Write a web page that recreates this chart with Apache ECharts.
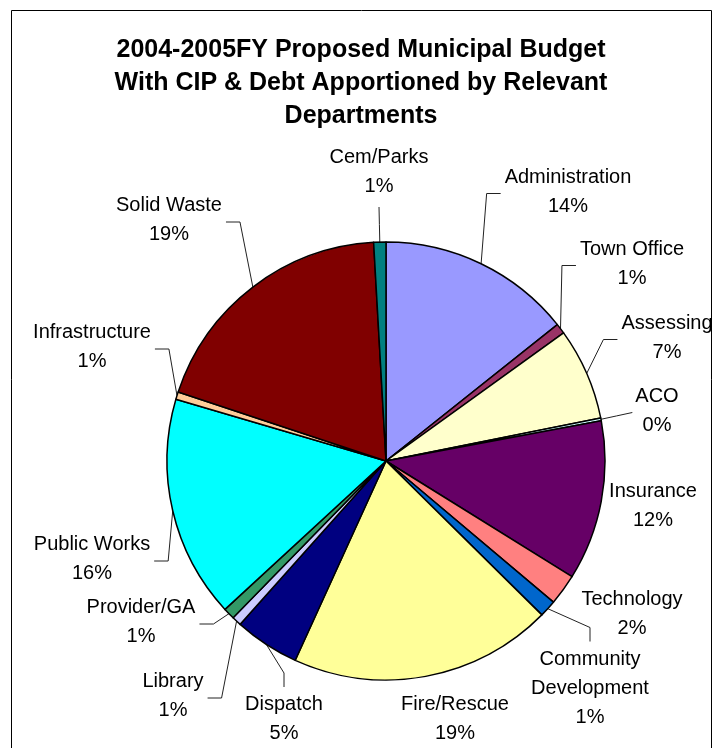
<!DOCTYPE html>
<html>
<head>
<meta charset="utf-8">
<script src="https://cdn.jsdelivr.net/npm/echarts@6/dist/echarts.min.js"></script>
<style>
  html, body { margin: 0; padding: 0; background: #fff; }
  #chart { width: 719px; height: 748px; }
</style>
</head>
<body>
<div id="chart"></div>
<script>
// Departments in drawing order, clockwise from 12 o'clock
const departments = [
  'Administration', 'Town Office', 'Assessing', 'ACO', 'Insurance',
  'Technology', 'Community Development', 'Fire/Rescue', 'Dispatch',
  'Library', 'Provider/GA', 'Public Works', 'Infrastructure',
  'Solid Waste', 'Cem/Parks'
];
// Share of the proposed budget, in percent
const shares = [
  14.3, 0.75, 6.8, 0.2, 11.8,
  2.3, 1.25, 19.4, 4.8,
  0.7, 0.85, 16.4, 0.55,
  19.0, 0.9
];
const sliceColors = [
  '#9999FF', '#993366', '#FFFFCC', '#CCFFFF', '#660066',
  '#FF8080', '#0066CC', '#FFFF99', '#000080',
  '#CCCCFF', '#339966', '#00FFFF', '#FFCC99',
  '#800000', '#008080'
];
const titleLines = [
  '2004-2005FY Proposed Municipal Budget',
  'With CIP & Debt Apportioned by Relevant',
  'Departments'
];

// Pie geometry
const PIE_CX = 386, PIE_CY = 461, PIE_R = 219;

// Where each label block sits and how its leader line reaches it
const labelSpots = {
  'Administration':        { x: 568, y: 192, lead: 'right' },
  'Town Office':           { x: 632, y: 264, lead: 'right' },
  'Assessing':             { x: 667, y: 338, lead: 'right' },
  'ACO':                   { x: 657, y: 411, lead: 'direct' },
  'Insurance':             { x: 653, y: 506, lead: 'none' },
  'Technology':            { x: 632, y: 614, lead: 'none' },
  'Community Development': { x: 590, y: 688, lead: 'below' },
  'Fire/Rescue':           { x: 455, y: 719, lead: 'none' },
  'Dispatch':              { x: 284, y: 719, lead: 'below' },
  'Library':               { x: 173, y: 696, lead: 'left' },
  'Provider/GA':           { x: 141, y: 622, lead: 'left' },
  'Public Works':          { x: 92,  y: 559, lead: 'left' },
  'Infrastructure':        { x: 92,  y: 347, lead: 'left' },
  'Solid Waste':           { x: 169, y: 220, lead: 'left' },
  'Cem/Parks':             { x: 379, y: 172, lead: 'above' }
};

const total = shares.reduce((a, b) => a + b, 0);

// Point on the outer rim at a slice's middle angle
function rimPoint(idx) {
  let before = 0;
  for (let i = 0; i < idx; i++) before += shares[i];
  const mid = (before + shares[idx] / 2) / total * Math.PI * 2;
  return [PIE_CX + PIE_R * Math.sin(mid), PIE_CY - PIE_R * Math.cos(mid)];
}

const pieData = departments.map((name, i) => ({
  name: name,
  value: shares[i],
  itemStyle: { color: sliceColors[i] },
  labelLine: { show: labelSpots[name].lead !== 'none' }
}));

const chart = echarts.init(document.getElementById('chart'), null, { renderer: 'canvas' });

chart.setOption({
  backgroundColor: '#ffffff',
  animation: false,
  graphic: [{
    type: 'rect',
    shape: { x: 11.5, y: 10.5, width: 700, height: 760 },
    style: { fill: 'none', stroke: '#000', lineWidth: 1 },
    silent: true
  }, {
    type: 'text',
    x: 361,
    y: 34,
    silent: true,
    style: {
      text: titleLines.join('\n'),
      align: 'center',
      verticalAlign: 'top',
      fontFamily: 'Liberation Sans, Arial, sans-serif',
      fontWeight: 'bold',
      fontSize: 25,
      lineHeight: 33,
      fill: '#000'
    }
  }],
  series: [{
    type: 'pie',
    center: [PIE_CX, PIE_CY],
    radius: [0, PIE_R],
    startAngle: 90,
    clockwise: true,
    avoidLabelOverlap: false,
    minAngle: 0,
    itemStyle: { borderColor: '#000', borderWidth: 1.5 },
    emphasis: { disabled: true },
    label: {
      show: true,
      position: 'outside',
      fontFamily: 'Liberation Sans, Arial, sans-serif',
      fontSize: 20,
      lineHeight: 29,
      color: '#000',
      formatter: function (p) {
        const name = p.name.length > 14 ? p.name.replace(' ', '\n') : p.name;
        return name + '\n' + Math.round(p.percent) + '%';
      }
    },
    labelLine: {
      show: true,
      length: 10,
      length2: 10,
      smooth: false,
      lineStyle: { color: '#222', width: 1 }
    },
    labelLayout: function (params) {
      const name = departments[params.dataIndex];
      const spot = labelSpots[name];
      const w = params.labelRect.width;
      const h = params.labelRect.height;
      const edge = (params.labelLinePoints && params.labelLinePoints[0])
        ? params.labelLinePoints[0] : rimPoint(params.dataIndex);
      const out = { x: spot.x, y: spot.y, align: 'center', verticalAlign: 'middle' };
      const left = spot.x - w / 2, right = spot.x + w / 2;
      const top = spot.y - h / 2, bottom = spot.y + h / 2;
      let pts = null;
      if (spot.lead === 'right') {
        const end = [left - 4, spot.y + 1.5];
        pts = [edge, [end[0] - 14, end[1]], end];
      } else if (spot.lead === 'left') {
        const end = [right + 4, spot.y + 2];
        pts = [edge, [end[0] + 14, end[1]], end];
      } else if (spot.lead === 'below') {
        const end = [spot.x, top - 3];
        pts = [edge, [end[0], end[1] - 14], end];
      } else if (spot.lead === 'above') {
        const end = [spot.x, bottom + 6];
        pts = [edge, [(edge[0] + end[0]) / 2, (edge[1] + end[1]) / 2], end];
      } else if (spot.lead === 'direct') {
        const end = [left - 3, spot.y + 1.5];
        pts = [edge, [(edge[0] + end[0]) / 2, (edge[1] + end[1]) / 2], end];
      }
      if (pts) out.labelLinePoints = pts;
      return out;
    },
    data: pieData
  }]
});
</script>
</body>
</html>
